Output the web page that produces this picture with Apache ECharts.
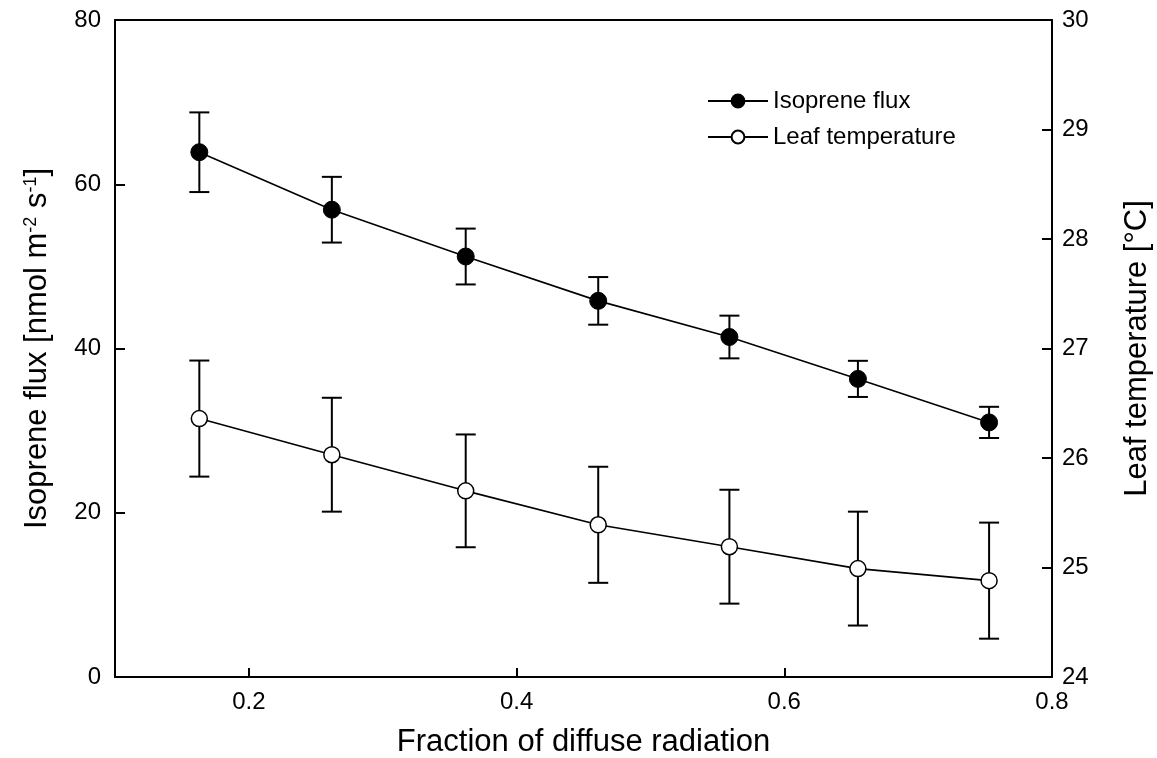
<!DOCTYPE html>
<html>
<head>
<meta charset="utf-8">
<script src="https://cdn.jsdelivr.net/npm/echarts@6/dist/echarts.min.js"></script>
<style>
  html, body { margin: 0; padding: 0; background: #fff; }
  #chart { width: 1157px; height: 758px; }
</style>
</head>
<body>
<div id="chart"></div>
<script>
// values
var diffuseFraction = [0.163, 0.262, 0.362, 0.461, 0.559, 0.655, 0.753];
var isopreneFlux = [63.9, 56.9, 51.2, 45.8, 41.4, 36.3, 31.0];
var isopreneErr = [4.85, 4.0, 3.4, 2.9, 2.6, 2.2, 1.9];
var leafTemp = [26.36, 26.03, 25.70, 25.39, 25.19, 24.99, 24.88];
var leafTempErr = [0.53, 0.52, 0.515, 0.53, 0.52, 0.52, 0.53];
var xTicks = [0.2, 0.4, 0.6, 0.8];

var font = 'Liberation Sans, Arial, sans-serif';

function pairs(ys) {
    return diffuseFraction.map(function (x, i) { return [x, ys[i]]; });
}
function errRows(ys, es) {
    return diffuseFraction.map(function (x, i) { return [x, ys[i] - es[i], ys[i] + es[i]]; });
}

function renderErr(params, api) {
    var x = api.value(0);
    var lo = api.coord([x, api.value(1)]);
    var hi = api.coord([x, api.value(2)]);
    var half = 10;
    var st = {stroke: '#000', lineWidth: 2};
    return {
        type: 'group',
        children: [
            {type: 'line', shape: {x1: lo[0], y1: lo[1], x2: hi[0], y2: hi[1]}, style: st},
            {type: 'line', shape: {x1: hi[0] - half, y1: hi[1], x2: hi[0] + half, y2: hi[1]}, style: st},
            {type: 'line', shape: {x1: lo[0] - half, y1: lo[1], x2: lo[0] + half, y2: lo[1]}, style: st}
        ]
    };
}

var myChart = echarts.init(document.getElementById('chart'));
myChart.setOption({
    animation: false,
    textStyle: {fontFamily: font, color: '#000'},
    grid: {left: 115, right: 105, top: 20, bottom: 81, outerBoundsMode: 'none'},
    legend: {
        orient: 'vertical',
        left: 702,
        top: 84,
        itemWidth: 60,
        itemHeight: 16,
        itemGap: 12,
        textStyle: {fontSize: 24, color: '#000', fontFamily: font},
        data: ['Isoprene flux', 'Leaf temperature']
    },
    xAxis: [
        {
            type: 'value',
            min: 0.1,
            max: 0.8,
            name: 'Fraction of diffuse radiation',
            nameLocation: 'middle',
            nameGap: 50,
            nameTextStyle: {fontSize: 31, color: '#000'},
            axisLine: {lineStyle: {color: '#000', width: 2}},
            axisTick: {inside: true, length: 9, lineStyle: {color: '#000', width: 2}, customValues: xTicks},
            axisLabel: {fontSize: 24, color: '#000', margin: 13, customValues: xTicks},
            splitLine: {show: false}
        },
        {
            type: 'value',
            position: 'top',
            min: 0.1,
            max: 0.8,
            axisLine: {show: true, lineStyle: {color: '#000', width: 2}},
            axisTick: {show: false},
            axisLabel: {show: false},
            splitLine: {show: false}
        }
    ],
    yAxis: [
        {
            type: 'value',
            min: 0,
            max: 80,
            interval: 20,
            name: 'Isoprene flux [nmol m{sup|-2} s{sup|-1}]',
            nameLocation: 'middle',
            nameGap: 62,
            nameTextStyle: {
                fontSize: 31, color: '#000',
                rich: {sup: {fontSize: 18, verticalAlign: 'top', color: '#000'}}
            },
            axisLine: {show: true, lineStyle: {color: '#000', width: 2}},
            axisTick: {inside: true, length: 10, lineStyle: {color: '#000', width: 2}},
            axisLabel: {fontSize: 24, color: '#000', margin: 14},
            splitLine: {show: false}
        },
        {
            type: 'value',
            min: 24,
            max: 30,
            interval: 1,
            position: 'right',
            name: 'Leaf temperature [°C]',
            nameLocation: 'middle',
            nameGap: 70,
            nameRotate: 90,
            nameTextStyle: {fontSize: 31, color: '#000'},
            axisLine: {show: true, lineStyle: {color: '#000', width: 2}},
            axisTick: {inside: true, length: 10, lineStyle: {color: '#000', width: 2}},
            axisLabel: {fontSize: 24, color: '#000', margin: 10},
            splitLine: {show: false}
        }
    ],
    series: [
        {
            type: 'custom',
            name: 'fluxErr',
            yAxisIndex: 0,
            renderItem: renderErr,
            data: errRows(isopreneFlux, isopreneErr),
            z: 1,
            silent: true
        },
        {
            type: 'custom',
            name: 'tempErr',
            yAxisIndex: 1,
            renderItem: renderErr,
            data: errRows(leafTemp, leafTempErr),
            z: 1,
            silent: true
        },
        {
            name: 'Isoprene flux',
            type: 'line',
            yAxisIndex: 0,
            data: pairs(isopreneFlux),
            symbol: 'circle',
            symbolSize: 17,
            lineStyle: {color: '#000', width: 1.6},
            itemStyle: {color: '#000', borderColor: '#000', borderWidth: 1},
            z: 3
        },
        {
            name: 'Leaf temperature',
            type: 'line',
            yAxisIndex: 1,
            data: pairs(leafTemp),
            symbol: 'circle',
            symbolSize: 16,
            showAllSymbol: true,
            lineStyle: {color: '#000', width: 1.6},
            itemStyle: {color: '#fff', borderColor: '#000', borderWidth: 1.5},
            z: 3
        }
    ]
});
</script>
</body>
</html>
